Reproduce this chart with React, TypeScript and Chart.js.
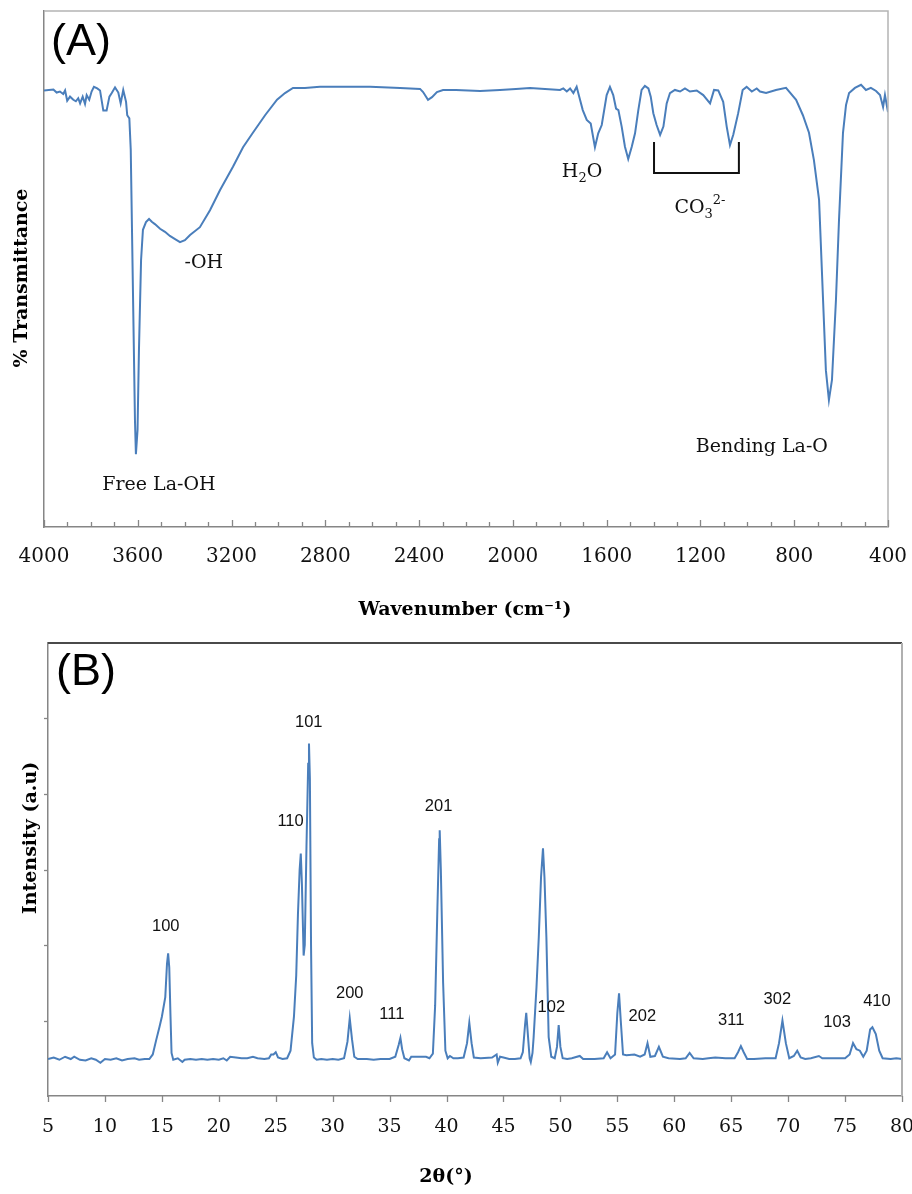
import React, { useEffect, useRef } from "react";
import { Chart, registerables } from "chart.js";

Chart.register(...registerables);

// ---------- (A) FTIR spectrum ----------
const irWavenumber = [
  4000, 3960, 3946, 3932, 3918, 3910, 3901, 3889, 3875, 3864, 3854, 3846, 3835, 3825, 3818, 3807, 3797, 3787, 3773, 3761,
  3747, 3733, 3721, 3711, 3697, 3683, 3673, 3662, 3650, 3645, 3636, 3630, 3620, 3612, 3608, 3601, 3595, 3586, 3578, 3565,
  3552, 3539, 3527, 3505, 3484, 3463, 3441, 3420, 3399, 3377, 3335, 3292, 3249, 3194, 3151, 3109, 3057, 3006, 2972, 2938,
  2887, 2823, 2737, 2609, 2481, 2396, 2383, 2362, 2345, 2324, 2298, 2243, 2140, 2055, 1987, 1927, 1863, 1799, 1785, 1770,
  1756, 1742, 1728, 1717, 1702, 1685, 1668, 1650, 1636, 1621, 1600, 1586, 1572, 1560, 1550, 1536, 1522, 1508, 1493, 1479,
  1465, 1451, 1437, 1422, 1412, 1401, 1387, 1372, 1358, 1344, 1330, 1309, 1287, 1266, 1245, 1216, 1188, 1159, 1142, 1124,
  1103, 1088, 1074, 1060, 1039, 1020, 1003, 981, 960, 946, 920, 878, 835, 792, 763, 737, 716, 694, 677, 665,
  652, 639, 622, 609, 592, 579, 566, 541, 515, 494, 473, 451, 434, 421, 413, 400,
];
const irTransmittance = [
  84.6, 84.8, 84.2, 84.4, 83.9, 84.6, 82.6, 83.4, 82.8, 82.5, 83.1, 82.1, 83.4, 82.0, 83.7, 82.8, 84.4, 85.3, 85.0, 84.6,
  80.7, 80.7, 83.4, 84.1, 85.2, 84.2, 82.1, 84.7, 82.4, 79.8, 79.2, 73.1, 44.0, 20.7, 14.1, 18.8, 34.3, 51.7, 57.6, 59.1,
  59.7, 59.1, 58.7, 57.8, 57.2, 56.4, 55.8, 55.2, 55.6, 56.6, 58.1, 61.4, 65.3, 69.8, 73.6, 76.4, 79.8, 82.8, 84.1, 85.1,
  85.1, 85.3, 85.3, 85.3, 85.1, 84.9, 84.3, 82.8, 83.3, 84.3, 84.7, 84.7, 84.5, 84.7, 84.9, 85.1, 84.9, 84.7, 85.0, 84.4,
  85.0, 84.1, 85.3, 83.4, 80.8, 78.9, 78.2, 73.6, 76.3, 77.9, 83.7, 85.3, 83.7, 81.1, 80.8, 77.6, 73.7, 71.3, 73.7, 76.3,
  80.8, 84.7, 85.5, 85.0, 83.4, 80.2, 77.9, 76.0, 77.6, 82.1, 84.1, 84.7, 84.4, 85.0, 84.4, 84.6, 83.7, 82.1, 84.7, 84.6,
  82.4, 77.6, 74.0, 76.0, 80.2, 84.7, 85.3, 84.4, 85.0, 84.4, 84.1, 84.7, 85.1, 82.8, 79.8, 76.4, 71.1, 63.4, 44.0, 30.4,
  24.6, 28.5, 44.0, 59.5, 76.4, 81.8, 84.1, 85.1, 85.7, 84.7, 85.1, 84.5, 83.7, 81.4, 83.7, 80.4,
];
const irTickStep = 400;
const irMinorStep = 100;
const irLabelText = ["-OH", "Free La-OH", "Bending La-O"];
const irLabelWavenumber = [3318, 3510, 938];
const irLabelValue = [50.2, 7.2, 14.5];
const h2oLabel = { w: 1705, v: 67.8 };
const co3Label = { w: 1202, v: 60.9 };
const co3Bracket = { wFrom: 1398, wTo: 1036, vTop: 74.6, vBottom: 68.6 };

// ---------- (B) XRD pattern ----------
const xrdTwoTheta = [
  5.0, 5.5, 6.0, 6.5, 7.0, 7.3, 7.8, 8.3, 8.8, 9.2, 9.6, 10.0, 10.5, 11.0, 11.5, 12.0, 12.6, 13.0, 13.5, 13.9,
  14.2, 14.5, 14.8, 15.0, 15.3, 15.45, 15.55, 15.65, 15.75, 15.85, 16.0, 16.4, 16.8, 17.0, 17.5, 18.0, 18.5, 19.0, 19.5, 20.0,
  20.4, 20.7, 21.0, 21.5, 22.0, 22.5, 23.0, 23.4, 24.0, 24.4, 24.6, 24.8, 25.0, 25.2, 25.6, 26.0, 26.3, 26.6, 26.8, 26.95,
  27.1, 27.2, 27.3, 27.45, 27.55, 27.7, 27.85, 27.92, 28.0, 28.1, 28.2, 28.35, 28.6, 29.0, 29.5, 30.0, 30.5, 31.0, 31.3, 31.5,
  31.7, 31.9, 32.2, 33.0, 33.6, 34.2, 35.0, 35.5, 35.8, 35.95, 36.1, 36.3, 36.7, 36.9, 37.5, 38.2, 38.5, 38.8, 39.0, 39.2,
  39.35, 39.4, 39.5, 39.7, 39.9, 40.1, 40.3, 40.6, 41.0, 41.5, 41.8, 42.0, 42.2, 42.4, 43.0, 44.0, 44.4, 44.5, 44.7, 45.0,
  45.5, 46.0, 46.5, 46.7, 46.9, 47.0, 47.15, 47.3, 47.4, 47.55, 47.65, 47.9, 48.1, 48.3, 48.47, 48.6, 48.77, 48.97, 49.2, 49.5,
  49.7, 49.85, 50.0, 50.2, 50.6, 51.0, 51.7, 52.0, 53.0, 53.8, 54.1, 54.4, 54.8, 55.0, 55.15, 55.3, 55.5, 55.8, 56.5, 57.0,
  57.4, 57.65, 57.9, 58.3, 58.65, 59.0, 59.5, 60.5, 61.0, 61.35, 61.7, 62.5, 63.0, 63.6, 64.5, 65.3, 65.6, 65.85, 66.1, 66.4,
  67.0, 68.0, 68.9, 69.2, 69.5, 69.8, 70.1, 70.5, 70.8, 71.1, 71.5, 72.0, 72.7, 73.0, 74.0, 75.0, 75.4, 75.7, 76.0, 76.3,
  76.6, 76.9, 77.2, 77.4, 77.7, 78.0, 78.3, 79.0, 79.5, 80.0,
];
const xrdIntensity = [
  49, 51, 48, 52, 49, 52, 48, 47, 50, 48, 44, 49, 48, 50, 47, 49, 50, 48, 49, 49,
  55, 74, 92, 105, 131, 175, 189, 170, 110, 57, 48, 50, 45, 48, 49, 48, 49, 48, 49, 48,
  50, 47, 52, 51, 50, 50, 52, 50, 49, 50, 55, 55, 58, 51, 49, 50, 60, 105, 160, 240,
  300, 321, 280, 186, 200, 330, 440, 467, 420, 200, 70, 51, 48, 49, 48, 49, 48, 50, 72, 103,
  75, 52, 49, 49, 48, 49, 49, 52, 68, 77, 62, 50, 47, 52, 52, 52, 50, 56, 120, 250,
  340, 352, 300, 150, 60, 50, 53, 50, 50, 51, 70, 97, 70, 51, 50, 51, 55, 44, 52, 51,
  49, 49, 50, 58, 95, 110, 80, 50, 45, 57, 78, 144, 210, 290, 328, 290, 210, 78, 52, 50,
  65, 94, 65, 50, 49, 50, 53, 49, 49, 50, 58, 50, 55, 110, 136, 100, 55, 54, 55, 52,
  55, 70, 52, 53, 65, 52, 50, 49, 50, 57, 50, 49, 50, 51, 50, 50, 58, 66, 58, 49,
  49, 50, 50, 70, 100, 70, 50, 53, 60, 51, 49, 50, 53, 50, 50, 50, 55, 70, 62, 60,
  52, 60, 88, 91, 82, 60, 50, 49, 50, 49,
];
const xrdTickStep = 5;
const xrdYStep = 100;
const xrdPeakLabels = ["100", "110", "101", "200", "111", "201", "102", "202", "311", "302", "103", "410"];
const xrdPeakLabelTheta = [15.34, 26.3, 27.9, 31.5, 35.2, 39.3, 49.2, 57.2, 65.0, 69.05, 74.3, 77.8];
const xrdPeakLabelIntensity = [218, 357, 489, 130, 102, 377, 111, 99, 94, 122, 91, 119];

const LINE = "rgb(74,126,187)";
const AXIS = "#868686";
const SERIF = "'DejaVu Serif', serif";
const SANS = "'Liberation Sans', Arial, sans-serif";

const irPlugin = {
  id: "irDecor",
  afterDraw(chart: any) {
    const { ctx, chartArea: a, scales } = chart;
    const x = scales.x;
    const y = scales.y;
    ctx.save();
    // frame (top & right)
    ctx.strokeStyle = "#b4b4b4";
    ctx.lineWidth = 1.5;
    ctx.beginPath();
    ctx.moveTo(a.left, a.top);
    ctx.lineTo(a.right, a.top);
    ctx.lineTo(a.right, a.bottom);
    ctx.stroke();
    // inward tick marks
    ctx.strokeStyle = AXIS;
    ctx.lineWidth = 1.3;
    for (let w = x.min; w <= x.max; w += irMinorStep) {
      const px = Math.round(x.getPixelForValue(w)) + 0.5;
      const len = w % irTickStep === 0 ? 7 : 5;
      ctx.beginPath();
      ctx.moveTo(px, a.bottom);
      ctx.lineTo(px, a.bottom - len);
      ctx.stroke();
    }
    // annotations
    ctx.fillStyle = "#111";
    ctx.textBaseline = "alphabetic";
    ctx.textAlign = "center";
    ctx.font = `19px ${SERIF}`;
    irLabelText.forEach((t, i) => {
      ctx.fillText(t, x.getPixelForValue(irLabelWavenumber[i]), y.getPixelForValue(irLabelValue[i]));
    });
    // H2O
    const big = `19px ${SERIF}`;
    const small = `13px ${SERIF}`;
    ctx.textAlign = "left";
    {
      ctx.font = big;
      const wH = ctx.measureText("H").width;
      const wO = ctx.measureText("O").width;
      ctx.font = small;
      const w2 = ctx.measureText("2").width;
      const total = wH + w2 + wO;
      let cx = x.getPixelForValue(h2oLabel.w) - total / 2;
      const by = y.getPixelForValue(h2oLabel.v);
      ctx.font = big;
      ctx.fillText("H", cx, by);
      cx += wH;
      ctx.font = small;
      ctx.fillText("2", cx, by + 5);
      cx += w2;
      ctx.font = big;
      ctx.fillText("O", cx, by);
    }
    // CO3 2-
    {
      ctx.font = big;
      const wCO = ctx.measureText("CO").width;
      ctx.font = small;
      const w3 = ctx.measureText("3").width;
      const wSup = ctx.measureText("2-").width;
      const total = wCO + w3 + wSup;
      let cx = x.getPixelForValue(co3Label.w) - total / 2;
      const by = y.getPixelForValue(co3Label.v);
      ctx.font = big;
      ctx.fillText("CO", cx, by);
      cx += wCO;
      ctx.font = small;
      ctx.fillText("3", cx, by + 5);
      cx += w3;
      ctx.fillText("2-", cx, by - 9);
    }
    // bracket
    ctx.strokeStyle = "#111";
    ctx.lineWidth = 2;
    ctx.beginPath();
    ctx.moveTo(x.getPixelForValue(co3Bracket.wFrom), y.getPixelForValue(co3Bracket.vTop));
    ctx.lineTo(x.getPixelForValue(co3Bracket.wFrom), y.getPixelForValue(co3Bracket.vBottom));
    ctx.lineTo(x.getPixelForValue(co3Bracket.wTo), y.getPixelForValue(co3Bracket.vBottom));
    ctx.lineTo(x.getPixelForValue(co3Bracket.wTo), y.getPixelForValue(co3Bracket.vTop));
    ctx.stroke();
    // panel letter
    ctx.fillStyle = "#000";
    ctx.font = `45px ${SANS}`;
    ctx.textAlign = "left";
    ctx.fillText("(A)", a.left + 7, a.top + 44);
    // axis titles
    ctx.font = `bold 19px ${SERIF}`;
    ctx.textAlign = "center";
    ctx.textBaseline = "middle";
    ctx.fillText("Wavenumber (cm\u207B\u00B9)", 465, a.bottom + 83);
    ctx.translate(22, 278);
    ctx.rotate(-Math.PI / 2);
    ctx.fillText("% Transmittance", 0, 0);
    ctx.restore();
  },
};

const xrdPlugin = {
  id: "xrdDecor",
  afterDraw(chart: any) {
    const { ctx, chartArea: a, scales } = chart;
    const x = scales.x;
    const y = scales.y;
    ctx.save();
    // frame
    ctx.lineWidth = 2;
    ctx.strokeStyle = "#4a4a4a";
    ctx.beginPath();
    ctx.moveTo(a.left, a.top);
    ctx.lineTo(a.right, a.top);
    ctx.stroke();
    ctx.strokeStyle = "#b0b0b0";
    ctx.beginPath();
    ctx.moveTo(a.right, a.top);
    ctx.lineTo(a.right, a.bottom);
    ctx.stroke();
    // outward tick marks
    ctx.strokeStyle = AXIS;
    ctx.lineWidth = 1.3;
    for (let t = x.min; t <= x.max; t += xrdTickStep) {
      const px = Math.round(x.getPixelForValue(t)) + 0.5;
      ctx.beginPath();
      ctx.moveTo(px, a.bottom);
      ctx.lineTo(px, a.bottom + 6);
      ctx.stroke();
    }
    for (let v = y.min + xrdYStep; v < y.max; v += xrdYStep) {
      const py = Math.round(y.getPixelForValue(v)) + 0.5;
      ctx.beginPath();
      ctx.moveTo(a.left - 4, py);
      ctx.lineTo(a.left, py);
      ctx.stroke();
    }
    // peak labels
    ctx.fillStyle = "#111";
    ctx.font = `16.5px ${SANS}`;
    ctx.textAlign = "center";
    ctx.textBaseline = "alphabetic";
    xrdPeakLabels.forEach((t, i) => {
      ctx.fillText(t, x.getPixelForValue(xrdPeakLabelTheta[i]), y.getPixelForValue(xrdPeakLabelIntensity[i]));
    });
    // panel letter
    ctx.fillStyle = "#000";
    ctx.font = `45px ${SANS}`;
    ctx.textAlign = "left";
    ctx.fillText("(B)", a.left + 8, a.top + 42);
    // axis titles
    ctx.font = `bold 19px ${SERIF}`;
    ctx.textAlign = "center";
    ctx.textBaseline = "middle";
    ctx.fillText("2\u03B8(\u00B0)", 446, a.bottom + 81);
    ctx.translate(31, 218);
    ctx.rotate(-Math.PI / 2);
    ctx.fillText("Intensity (a.u)", 0, 0);
    ctx.restore();
  },
};

function fixX(height: number) {
  return (scale: any) => {
    scale.height = height;
    scale.paddingLeft = 0;
    scale.paddingRight = 0;
  };
}
function fixY(scale: any) {
  scale.width = 0;
  scale.paddingTop = 0;
  scale.paddingBottom = 0;
}
const plainLabel = (v: any) => String(v);

export default function App() {
  const refA = useRef<HTMLCanvasElement>(null);
  const refB = useRef<HTMLCanvasElement>(null);

  useEffect(() => {
    const irData = irWavenumber.map((w, i) => ({ x: w, y: irTransmittance[i] }));
    const xrdData = xrdTwoTheta.map((t, i) => ({ x: t, y: xrdIntensity[i] }));

    const chartA = new Chart(refA.current as HTMLCanvasElement, {
      type: "line",
      data: {
        datasets: [
          { data: irData, borderColor: LINE, borderWidth: 2, pointRadius: 0, tension: 0, fill: false },
        ],
      },
      options: {
        animation: false,
        responsive: false,
        devicePixelRatio: 1,
        layout: { padding: { left: 44, top: 11, right: 24, bottom: 0 } },
        plugins: { legend: { display: false }, tooltip: { enabled: false } },
        scales: {
          x: {
            type: "linear",
            reverse: true,
            min: 400,
            max: 4000,
            grid: { display: false, drawTicks: false },
            border: { display: true, color: AXIS, width: 1.5 },
            ticks: {
              stepSize: irTickStep,
              autoSkip: false,
              maxRotation: 0,
              padding: 18,
              color: "#111",
              font: { family: SERIF, size: 20 },
              callback: plainLabel,
            },
            afterFit: fixX(113),
          },
          y: {
            min: 0,
            max: 100,
            grid: { display: false, drawTicks: false },
            border: { display: true, color: AXIS, width: 1.5 },
            ticks: { display: false },
            afterFit: fixY,
          },
        },
      },
      plugins: [irPlugin],
    } as any);

    const chartB = new Chart(refB.current as HTMLCanvasElement, {
      type: "line",
      data: {
        datasets: [
          { data: xrdData, borderColor: LINE, borderWidth: 2, pointRadius: 0, tension: 0, fill: false },
        ],
      },
      options: {
        animation: false,
        responsive: false,
        devicePixelRatio: 1,
        layout: { padding: { left: 48, top: 23, right: 10, bottom: 0 } },
        plugins: { legend: { display: false }, tooltip: { enabled: false } },
        scales: {
          x: {
            type: "linear",
            min: 5,
            max: 80,
            grid: { display: false, drawTicks: false },
            border: { display: true, color: AXIS, width: 1.5 },
            ticks: {
              stepSize: xrdTickStep,
              autoSkip: false,
              maxRotation: 0,
              padding: 20,
              color: "#111",
              font: { family: SERIF, size: 19 },
              callback: plainLabel,
            },
            afterFit: fixX(98),
          },
          y: {
            min: 0,
            max: 600,
            grid: { display: false, drawTicks: false },
            border: { display: true, color: AXIS, width: 1.5 },
            ticks: { display: false, stepSize: xrdYStep },
            afterFit: fixY,
          },
        },
      },
      plugins: [xrdPlugin],
    } as any);

    return () => {
      chartA.destroy();
      chartB.destroy();
    };
  }, []);

  return (
    <div style={{ position: "absolute", left: 0, top: 0, width: 912, height: 1194, background: "#fff" }}>
      <canvas
        ref={refA}
        width={912}
        height={640}
        style={{ position: "absolute", left: 0, top: 0, width: 912, height: 640 }}
      />
      <canvas
        ref={refB}
        width={912}
        height={574}
        style={{ position: "absolute", left: 0, top: 620, width: 912, height: 574 }}
      />
    </div>
  );
}
